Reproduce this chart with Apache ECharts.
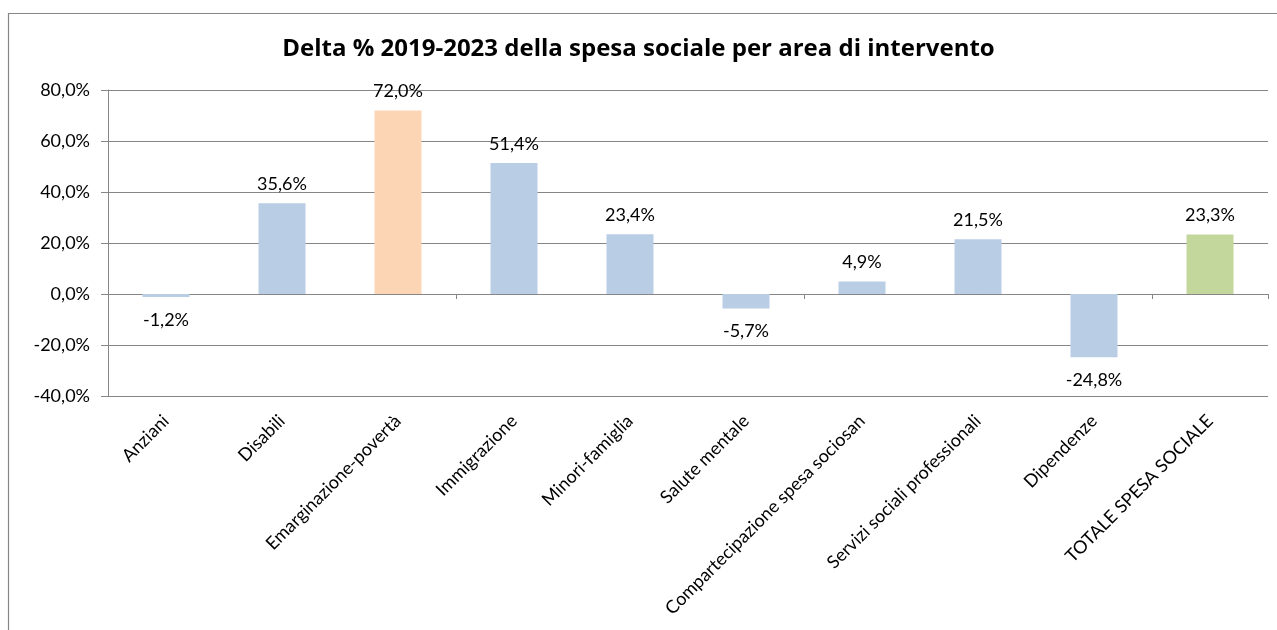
<!DOCTYPE html>
<html>
<head>
<meta charset="utf-8">
<script src="https://cdn.jsdelivr.net/npm/echarts@6/dist/echarts.min.js"></script>
<style>
  html, body { margin: 0; padding: 0; background: #ffffff; }
  #chart { width: 1277px; height: 630px; }
</style>
</head>
<body>
<div id="chart"></div>
<script>
// Aree di intervento
const categories = [
  'Anziani', 'Disabili', 'Emarginazione-povertà', 'Immigrazione', 'Minori-famiglia',
  'Salute mentale', 'Compartecipazione spesa sociosan', 'Servizi sociali professionali',
  'Dipendenze', 'TOTALE SPESA SOCIALE'
];
// Variazione % 2019-2023
const deltaValues = [-1.2, 35.6, 72.0, 51.4, 23.4, -5.7, 4.9, 21.5, -24.8, 23.3];
// Colore di ciascuna barra
const barColors = [
  '#B9CDE5', '#B9CDE5', '#FCD5B5', '#B9CDE5', '#B9CDE5',
  '#B9CDE5', '#B9CDE5', '#B9CDE5', '#B9CDE5', '#C3D69B'
];
// Scala asse valori
const yMin = -40, yMax = 80, yStep = 20;

const FONT = 'Lato, "Open Sans", sans-serif';
const TITLE_FONT = '"Open Sans", Lato, sans-serif';
const fmt = v => v.toFixed(1).replace('.', ',') + '%';

const chart = echarts.init(document.getElementById('chart'), null, { renderer: 'canvas' });

const seriesData = deltaValues.map((v, i) => ({
  value: v,
  itemStyle: { color: barColors[i] },
  label: v < 0 ? { position: 'bottom', distance: 14 } : { position: 'top', distance: 10 }
}));

chart.setOption({
  animation: false,
  backgroundColor: '#ffffff',
  graphic: [{
    type: 'rect',
    shape: { x: 8.5, y: 13.5, width: 1400, height: 800 },
    style: { fill: 'none', stroke: '#868686', lineWidth: 1.2 },
    silent: true,
    z: -1
  }],
  title: {
    text: 'Delta % 2019-2023 della spesa sociale per area di intervento',
    left: 'center',
    top: 32,
    textStyle: { fontFamily: TITLE_FONT, fontWeight: 'bold', fontSize: 24, color: '#000000' }
  },
  grid: { left: 108, right: 9, top: 90, bottom: 234, containLabel: false },
  xAxis: [
    {
      type: 'category',
      data: categories,
      axisLine: { show: false, onZero: false },
      axisTick: { show: false },
      axisLabel: {
        rotate: 45,
        margin: 22,
        interval: 0,
        fontFamily: FONT,
        fontSize: 18,
        color: '#000000'
      }
    },
    {
      type: 'category',
      data: categories,
      position: 'bottom',
      axisLine: { show: true, onZero: true, lineStyle: { color: '#868686', width: 1 } },
      axisTick: { show: true, length: 5, lineStyle: { color: '#868686' } },
      axisLabel: { show: false }
    }
  ],
  yAxis: {
    type: 'value',
    min: yMin,
    max: yMax,
    interval: yStep,
    axisLine: { show: true, lineStyle: { color: '#868686', width: 1 } },
    axisTick: { show: true, length: 7, lineStyle: { color: '#868686' } },
    splitLine: { show: true, lineStyle: { color: '#868686', width: 1 } },
    axisLabel: {
      margin: 18,
      fontFamily: FONT,
      fontSize: 18,
      color: '#000000',
      formatter: v => fmt(v)
    }
  },
  series: [{
    type: 'bar',
    xAxisIndex: 0,
    data: seriesData,
    barWidth: 47,
    label: {
      show: true,
      fontFamily: FONT,
      fontSize: 18,
      color: '#000000',
      formatter: p => fmt(p.value)
    }
  }]
});
</script>
</body>
</html>
